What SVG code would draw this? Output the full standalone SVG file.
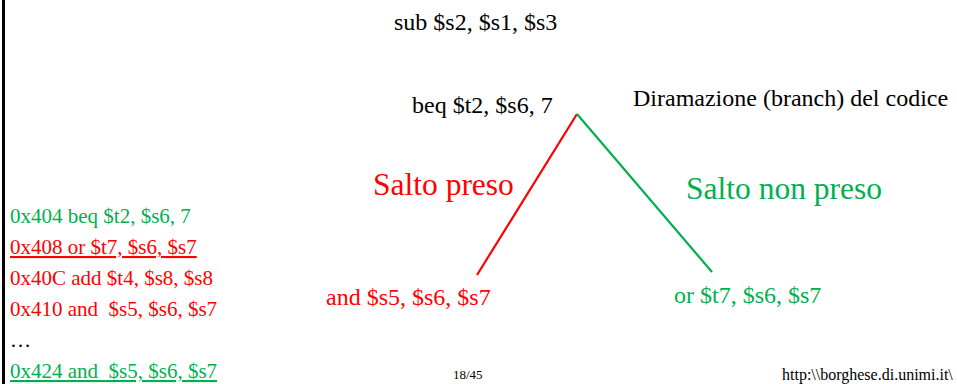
<svg xmlns="http://www.w3.org/2000/svg" width="957" height="384" viewBox="0 0 957 384">
<style>
text{font-family:"Liberation Serif","Times New Roman",serif;white-space:pre}
.k{fill:#000}
.r{fill:#FF0000}
.g{fill:#00B050}
.m{font-size:24px}
.b{font-size:31.5px}
.s{font-size:21px}
.u{text-decoration:underline}
</style>
<rect x="2" y="0" width="3" height="384" fill="#000"/>
<g id="listing">
<text class="s g" x="10" y="223">0x404 beq $t2, $s6, 7</text>
<text class="s r u" x="10" y="254">0x408 or $t7, $s6, $s7</text>
<text class="s r" x="10" y="285">0x40C add $t4, $s8, $s8</text>
<text class="s r" x="10" y="316">0x410 and  $s5, $s6, $s7</text>
<text class="s k" x="10" y="347">…</text>
<text class="s g u" x="10" y="378">0x424 and  $s5, $s6, $s7</text>
</g>
<g id="sub"><text class="m k" x="394" y="30">sub $s2, $s1, $s3</text></g>
<g id="beq"><text class="m k" x="412" y="113">beq $t2, $s6, 7</text></g>
<g id="title"><text class="m k" x="633" y="106">Diramazione (branch) del codice</text></g>
<g id="taken-label"><text class="b r" x="373" y="195">Salto preso</text></g>
<g id="nottaken-label"><text class="b g" x="686" y="199">Salto non preso</text></g>
<g id="and"><text class="m r" x="326" y="305">and $s5, $s6, $s7</text></g>
<g id="or"><text class="m g" x="674" y="303">or $t7, $s6, $s7</text></g>
<g id="connectors" fill="none" stroke-width="2.2">
<line x1="577" y1="114" x2="477" y2="275" stroke="#FF0000"/>
<line x1="577" y1="114" x2="712" y2="272" stroke="#00B050"/>
</g>
<text x="453" y="379" font-size="13" class="k">18/45</text>
<text x="782" y="380" font-size="16" class="k">http:\\borghese.di.unimi.it\</text>
</svg>
